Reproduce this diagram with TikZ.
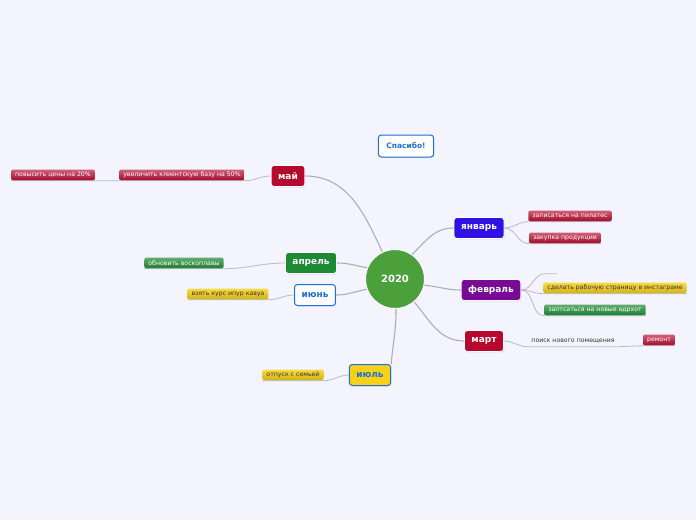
\documentclass[tikz,border=0pt]{standalone}
\usepackage{fontspec}
\setmainfont{DejaVu Sans}
\usetikzlibrary{positioning,shadows}
\definecolor{MapBack}{HTML}{F3F4FD}
\definecolor{MapLine}{HTML}{B6BAC6}
\definecolor{MapTrunk}{HTML}{ABAFBB}
\definecolor{MapRed}{HTML}{B50A2E}
\definecolor{MapGreen}{HTML}{1F8A34}
\definecolor{MapViolet}{HTML}{3010E2}
\definecolor{MapPurple}{HTML}{780A96}
\definecolor{MapYellow}{HTML}{F7D117}
\definecolor{MapFrame}{HTML}{1E6FD9}
\definecolor{MapCentre}{HTML}{4CA03C}

\begin{document}
\begin{tikzpicture}[
    x=1pt, y=1pt,
    topic/.style={
      draw=white,
      line width=0.8pt,
      minimum height=21pt,
      inner xsep=7pt,
      inner ysep=0pt,
      rounded corners=3pt,
      text=white,
      font=\fontsize{9}{11}\selectfont\bfseries,
      drop shadow={shadow xshift=0.6pt,shadow yshift=-0.9pt,opacity=0.25}
    },
    framed/.style={
      topic,
      draw=MapFrame,
      line width=1pt,
      fill=white,
      text=MapFrame
    },
    sub/.style={
      minimum height=11pt,
      inner xsep=4pt,
      inner ysep=0pt,
      rounded corners=2pt,
      text=white,
      font=\fontsize{6.2}{7}\selectfont
    },
    subred/.style={sub, top color=MapRed!65!white, bottom color=MapRed!90!black},
    subgreen/.style={sub, top color=MapGreen!70!white, bottom color=MapGreen!90!black},
    subyellow/.style={sub, top color=MapYellow!80!white, bottom color=MapYellow!85!black, text=black!80},
    plain/.style={
      minimum height=11pt,
      inner xsep=4pt,
      inner ysep=0pt,
      text=black!80,
      font=\fontsize{6.2}{7}\selectfont
    },
    trunk/.style={
      line width=1.1pt,
      color=MapTrunk
    },
    link/.style={
      line width=0.8pt,
      color=MapLine
    }
  ]

  % Background
  \fill[MapBack] (0,0) rectangle (696,-520);

  % Centre
  \node[circle,fill=MapCentre,draw=white,line width=1pt,minimum size=59pt,
        text=white,font=\fontsize{10}{12}\selectfont\bfseries] (c2020) at (395,-279) {2020};

  % Thanks
  \node[framed,minimum height=22pt,inner xsep=8pt,font=\fontsize{7.5}{9}\selectfont\bfseries]
    (thanks) at (406,-146) {Спасибо!};

  % Months
  \node[topic,fill=MapViolet] (jan) at (479,-228) {январь};
  \node[topic,fill=MapPurple] (feb) at (491,-290) {февраль};
  \node[topic,fill=MapRed] (mar) at (484,-341) {март};
  \node[topic,fill=MapRed] (may) at (288,-176) {май};
  \node[topic,fill=MapGreen] (apr) at (311,-263) {апрель};
  \node[framed] (jun) at (315,-295) {июнь};
  \node[framed,fill=MapYellow] (jul) at (370,-375) {июль};

  % Tasks
  \node[subred] (pil) at (570,-216) {записаться на пилатес};
  \node[subred] (buy) at (565,-238) {закупка продукции};
  \node[minimum width=12pt,minimum height=11pt,inner sep=0pt] (empty) at (551,-268) {};
  \node[subyellow] (insta) at (615,-288) {сделать рабочую страницу в инстаграме};
  \node[subgreen] (adr) at (595,-310) {заптсаться на новые адрхот};
  \node[plain] (room) at (573,-341) {поиск нового помещения};
  \node[subred] (fix) at (659,-340) {ремонт};
  \node[subred] (base) at (182,-175) {увеличить клиентскую базу на 50\%};
  \node[subred] (price) at (53,-175) {повысить цены на 20\%};
  \node[subgreen] (wax) at (184,-263) {обновить воскоплавы};
  \node[subyellow] (course) at (228,-294) {взять курс ипур кавуа};
  \node[subyellow] (family) at (293,-375) {отпуск с семьей};

  % Trunks
  \draw[trunk] (c2020.115) to[out=115,in=0] (may.east);
  \draw[trunk] (c2020.55) to[out=45,in=180] (jan.west);
  \draw[trunk] (c2020.-12) to[out=-5,in=180] (feb.west);
  \draw[trunk] (c2020.-50) to[out=-50,in=180] (mar.west);
  \draw[trunk] (c2020.158) to[out=170,in=0] (apr.east);
  \draw[trunk] (c2020.200) to[out=190,in=0] (jun.east);
  \draw[trunk] (c2020.-88) to[out=-90,in=85] (jul.north east);

  % Branches
  \draw[link] (jan.east) to[out=0,in=180] (pil.south west) -- (pil.south east);
  \draw[link] (jan.east) to[out=0,in=180] (buy.south west) -- (buy.south east);
  \draw[link] (feb.east) to[out=0,in=180] (empty.south west) -- (empty.south east);
  \draw[link] (feb.east) to[out=0,in=180] (insta.south west) -- (insta.south east);
  \draw[link] (feb.east) to[out=0,in=180] (adr.south west) -- (adr.south east);
  \draw[link] (mar.east) to[out=0,in=180] (room.south west) -- (room.south east)
    -- (fix.south west) -- (fix.south east);
  \draw[link] (may.west) to[out=180,in=0] (base.south east) -- (base.south west)
    -- (price.south east) -- (price.south west);
  \draw[link] (apr.west) to[out=180,in=0] (wax.south east) -- (wax.south west);
  \draw[link] (jun.west) to[out=180,in=0] (course.south east) -- (course.south west);
  \draw[link] (jul.west) to[out=180,in=0] (family.south east) -- (family.south west);

\end{tikzpicture}
\end{document}
